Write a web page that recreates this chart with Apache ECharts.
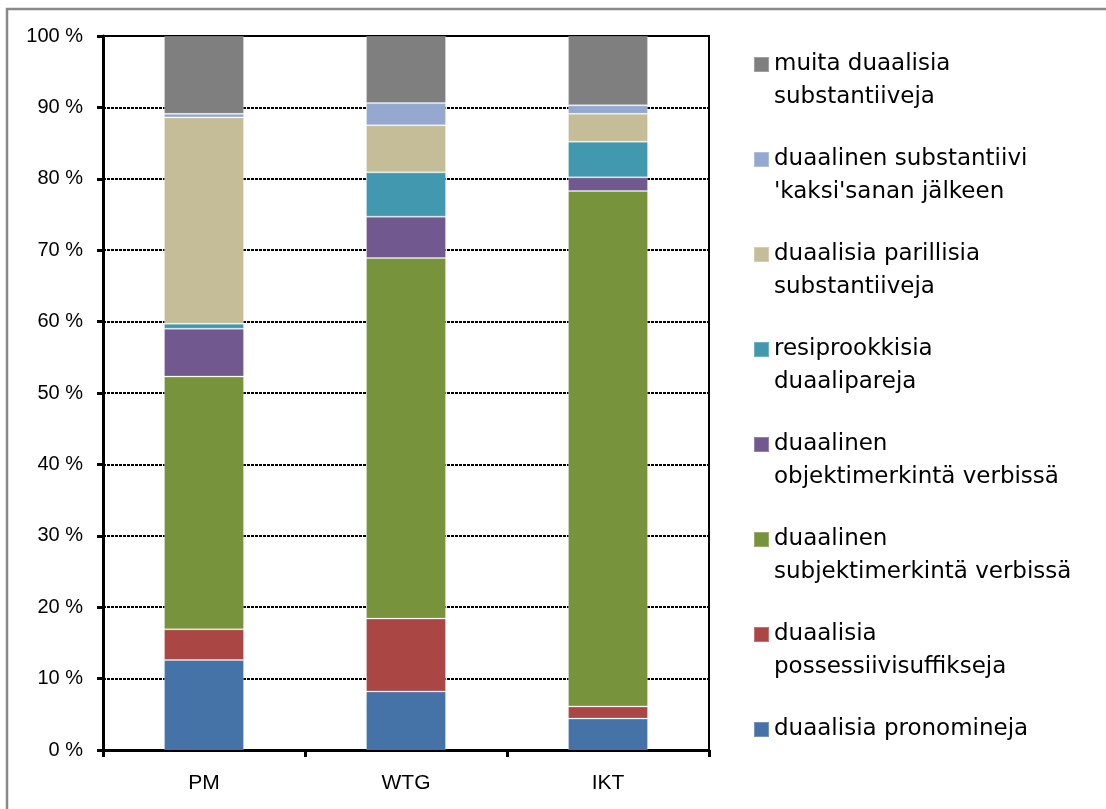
<!DOCTYPE html>
<html>
<head>
<meta charset="utf-8">
<title>Duaalin ilmaisukeinot</title>
<script src="https://cdn.jsdelivr.net/npm/echarts@6/dist/echarts.min.js"></script>
<style>
  html, body { margin: 0; padding: 0; background: #fff; }
  #chart { width: 1106px; height: 809px; }
</style>
</head>
<body>
<div id="chart"></div>
<script>
// Corpora on the x axis
const categories = ['PM', 'WTG', 'IKT'];

// Share (%) of each way of marking the dual, stacked bottom to top
const pronomineja          = [12.6, 8.2, 4.4];
const possessiivisuffiksit = [4.3, 10.2, 1.7];
const subjektimerkinta     = [35.4, 50.5, 72.2];
const objektimerkinta      = [6.7, 5.8, 1.9];
const resiprookkisia       = [0.7, 6.2, 5.0];
const parillisia           = [28.9, 6.6, 3.9];
const kaksiSanan           = [0.5, 3.1, 1.2];
const muita                = [10.9, 9.4, 9.7];

// Series names (line breaks as shown in the legend)
const seriesNames = [
  'duaalisia pronomineja',
  'duaalisia\npossessiivisuffikseja',
  'duaalinen\nsubjektimerkintä verbissä',
  'duaalinen\nobjektimerkintä verbissä',
  'resiprookkisia\nduaalipareja',
  'duaalisia parillisia\nsubstantiiveja',
  "duaalinen substantiivi\n'kaksi'sanan jälkeen",
  'muita duaalisia\nsubstantiiveja'
];
const seriesValues = [pronomineja, possessiivisuffiksit, subjektimerkinta, objektimerkinta,
                      resiprookkisia, parillisia, kaksiSanan, muita];
const seriesColors = ['#4572a7', '#aa4644', '#77933c', '#71588f',
                      '#4298ae', '#c4bd97', '#95a9d0', '#7f7f7f'];

// Y axis ticks
const yTicks = [0, 10, 20, 30, 40, 50, 60, 70, 80, 90, 100];

const chart = echarts.init(document.getElementById('chart'), null, { renderer: 'canvas' });

const series = seriesNames.map((name, i) => ({
  name: name,
  type: 'bar',
  stack: 'total',
  barWidth: 80,
  data: seriesValues[i],
  itemStyle: {
    color: seriesColors[i],
    borderColor: 'rgba(255,255,255,0.25)',
    borderWidth: 1
  },
  emphasis: { disabled: true },
  animation: false
}));

chart.setOption({
  backgroundColor: '#ffffff',
  animation: false,
  graphic: [{
    type: 'rect',
    shape: { x: 7, y: 9, width: 1200, height: 900 },
    style: { fill: 'none', stroke: '#8a8a8a', lineWidth: 2.5 },
    silent: true,
    z: -10
  }],
  grid: {
    left: 103,
    right: 397,
    top: 36,
    bottom: 59,
    show: true,
    borderColor: '#000',
    borderWidth: 2,
    backgroundColor: 'transparent'
  },
  legend: {
    orient: 'vertical',
    left: 753,
    top: 12,
    padding: 0,
    itemWidth: 15,
    itemHeight: 15,
    itemGap: -10,
    icon: 'rect',
    selectedMode: false,
    data: seriesNames.slice().reverse(),
    formatter: name => '\n' + name + (name.indexOf('\n') < 0 ? '\n' : ''),
    textStyle: {
      fontFamily: 'DejaVu Sans',
      fontSize: 23,
      lineHeight: 33,
      padding: [6, 0, 0, 0],
      color: '#000'
    }
  },
  xAxis: {
    type: 'category',
    data: categories,
    boundaryGap: true,
    axisLine: { lineStyle: { color: '#000', width: 3 } },
    axisTick: { show: true, alignWithLabel: false, length: 7, lineStyle: { color: '#000', width: 3 } },
    axisLabel: {
      color: '#000',
      fontFamily: 'Liberation Sans',
      fontSize: 21,
      margin: 23
    },
    splitLine: { show: false }
  },
  yAxis: {
    type: 'value',
    min: yTicks[0],
    max: yTicks[yTicks.length - 1],
    interval: yTicks[1] - yTicks[0],
    axisLine: { show: true, lineStyle: { color: '#000', width: 3 } },
    axisTick: { show: true, length: 6, lineStyle: { color: '#000', width: 3 } },
    axisLabel: {
      color: '#000',
      fontFamily: 'Liberation Sans',
      fontSize: 20,
      margin: 20,
      formatter: '{value} %'
    },
    splitLine: {
      show: true,
      lineStyle: { color: '#000', width: 2, type: [3, 1] }
    }
  },
  series: series
});
</script>
</body>
</html>
